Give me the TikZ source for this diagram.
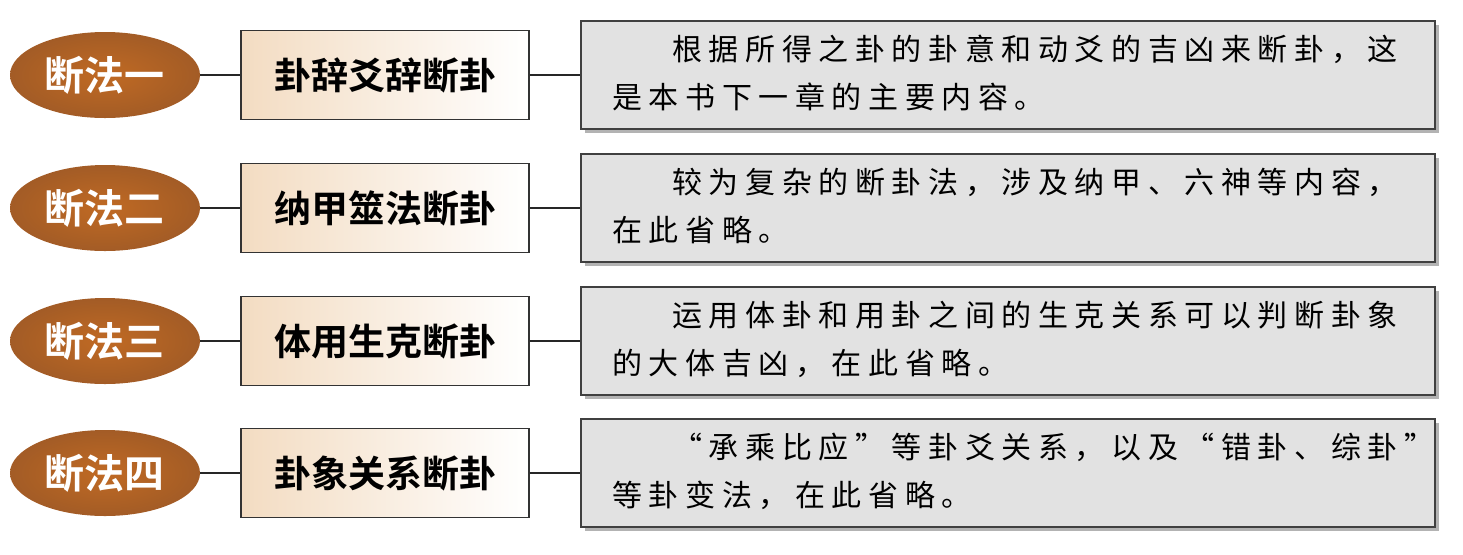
\documentclass[tikz,border=0pt]{standalone}
\usepackage{fontspec}
\setmainfont{Noto Sans CJK SC}
\newfontfamily\bold{Noto Sans CJK SC Bold}
\newfontfamily\kai[LetterSpace=22]{Noto Sans CJK SC}
\usetikzlibrary{shadows,shapes.geometric}
\definecolor{brn}{HTML}{B5662A}
\definecolor{peach}{HTML}{F3DCC2}
\definecolor{gry}{HTML}{E2E2E2}
\tikzset{
 ell/.style={ellipse,minimum width=95pt,minimum height=43pt,inner sep=0pt,
   inner color=brn!85!orange,outer color=brn!90!black,
   text=white,font=\bold\fontsize{20}{20}\selectfont},
 mid/.style={draw=black!80,line width=0.8pt,minimum width=144pt,minimum height=44.5pt,inner sep=0pt,
   left color=peach,right color=white,font=\bold\fontsize{18.5}{18.5}\selectfont},
 rbox/.style={draw=black!75,line width=1pt,fill=gry,minimum width=427pt,minimum height=54pt,inner sep=0pt,
   drop shadow={shadow xshift=2pt,shadow yshift=-2pt,opacity=0.6}},
 txt/.style={anchor=north west,align=left,inner sep=0pt,font=\kai\fontsize{15}{24}\selectfont},
 con/.style={line width=0.8pt,black!85}
}
\begin{document}
\begin{tikzpicture}[x=0.5pt,y=-0.5pt]
\useasboundingbox (0,0) rectangle (1463,554);
\foreach \i/\y/\a/\b/\la/\lb in {
 1/75/断法一/卦辞爻辞断卦/{\hspace*{2em}根据所得之卦的卦意和动爻的吉凶来断卦，这}/{是本书下一章的主要内容。},
 2/208/断法二/纳甲筮法断卦/{\hspace*{2em}较为复杂的断卦法，涉及纳甲、六神等内容，}/{在此省略。},
 3/341/断法三/体用生克断卦/{\hspace*{2em}运用体卦和用卦之间的生克关系可以判断卦象}/{的大体吉凶，在此省略。},
 4/473/断法四/卦象关系断卦/{\hspace*{2em}“承乘比应”等卦爻关系，以及“错卦、综卦”}/{等卦变法，在此省略。}}{
 \node[ell] (e\i) at (105,\y) {\a};
 \node[mid] (m\i) at (385,\y) {\b};
 \node[rbox] (r\i) at (1008,\y) {};
 \draw[con] (e\i) -- (m\i);
 \draw[con] (m\i) -- (r\i);
 \node[txt] (t\i) at (612,\y-40) {\la\\\lb};
}
\end{tikzpicture}
\end{document}
